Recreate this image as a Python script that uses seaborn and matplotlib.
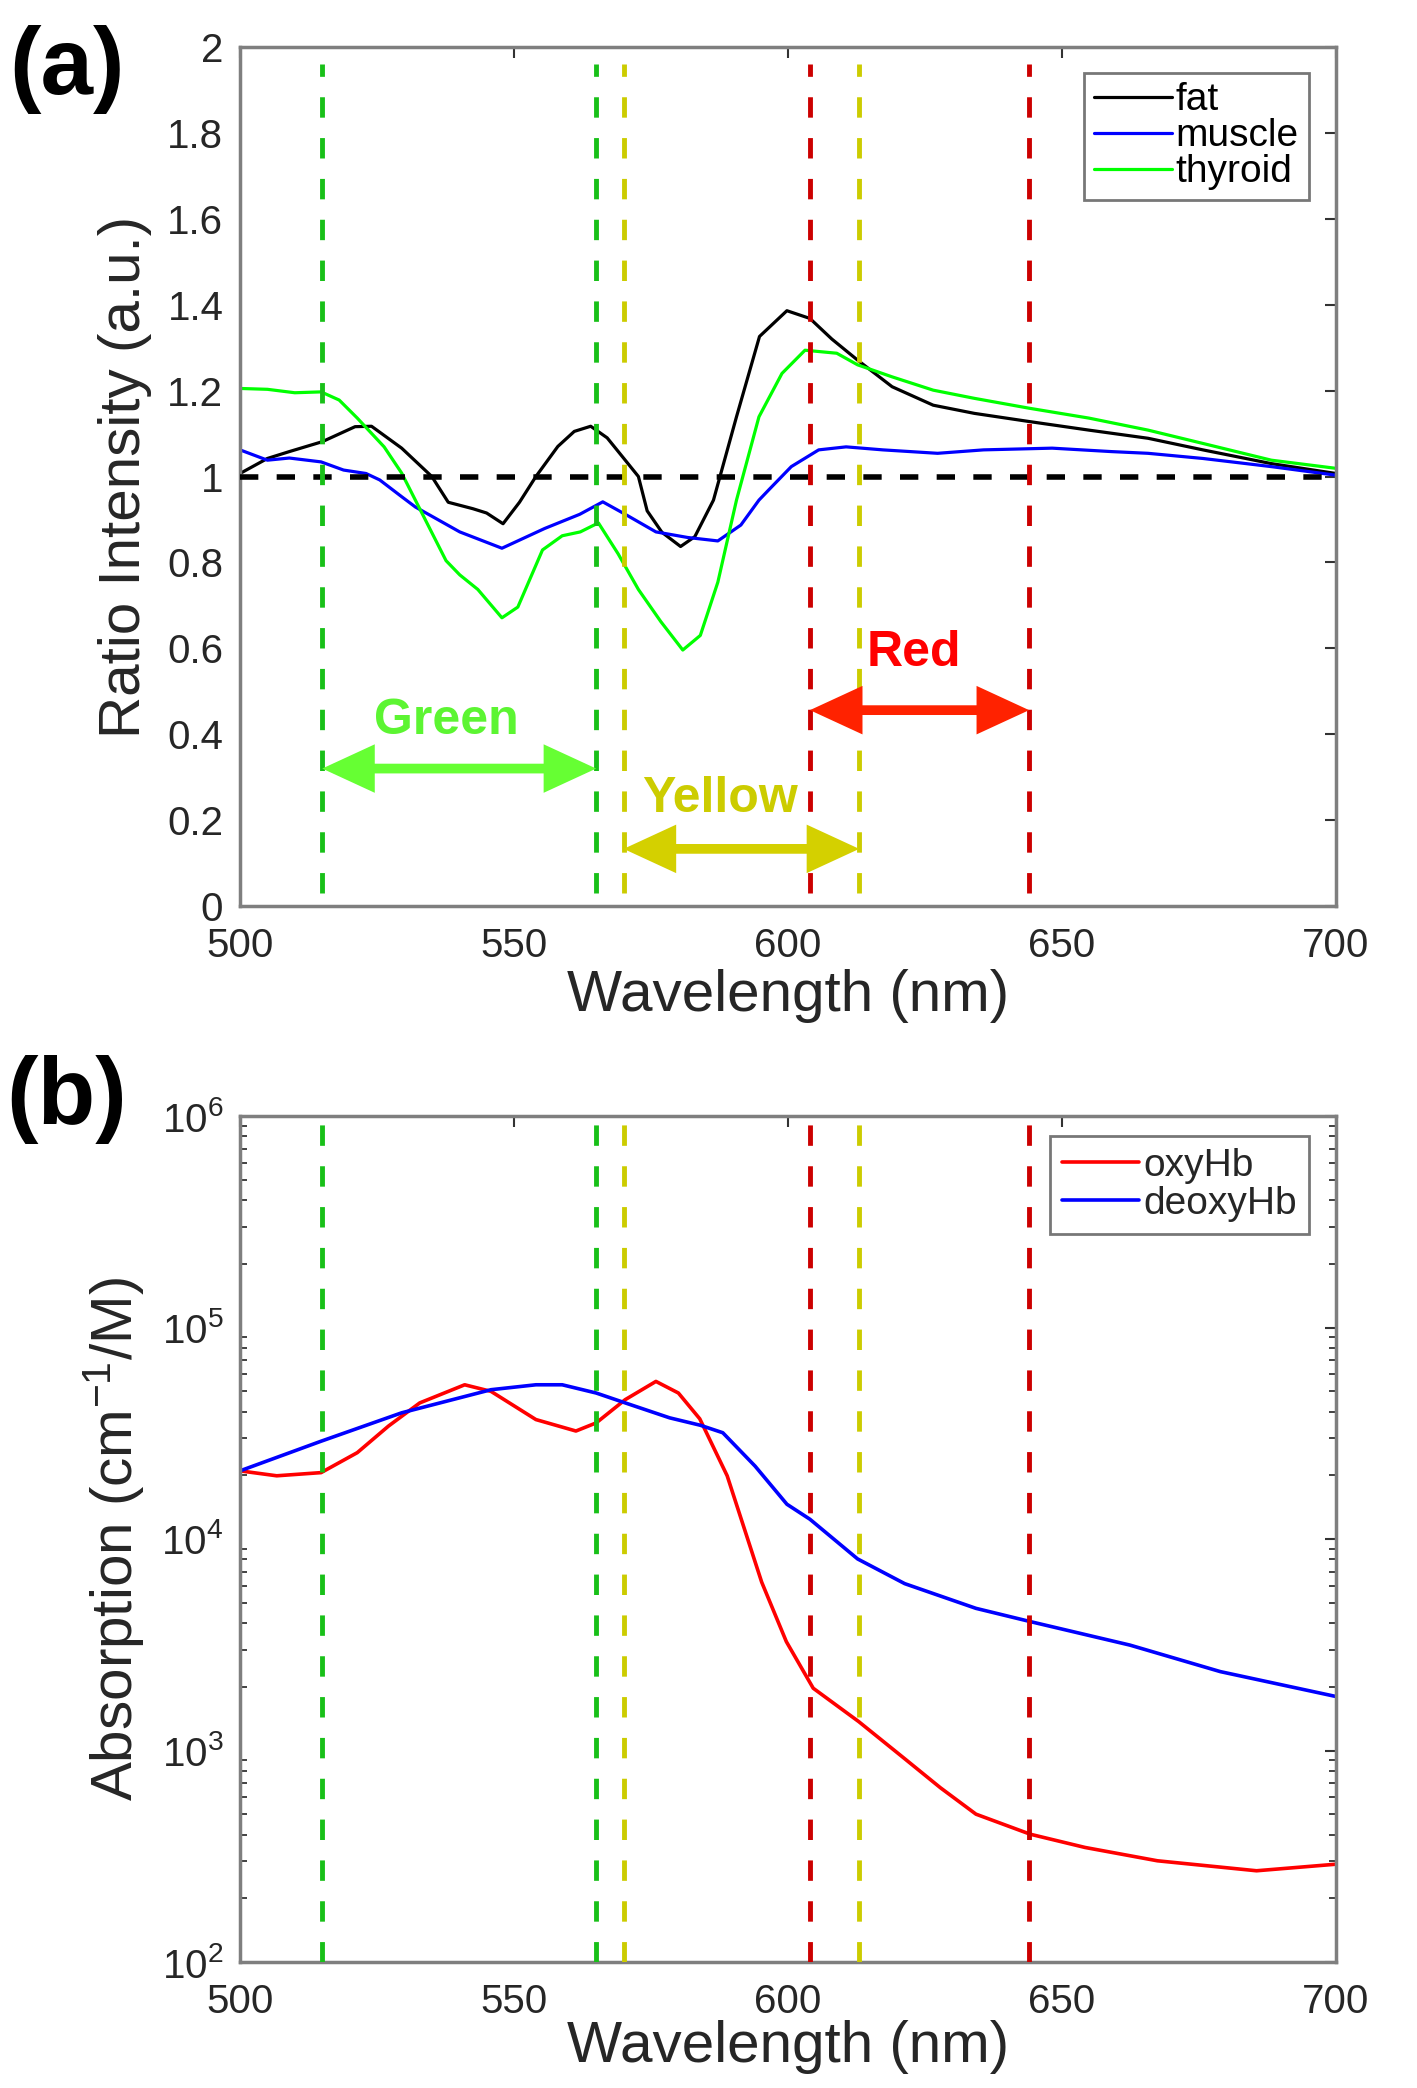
import matplotlib
matplotlib.use("Agg")
import matplotlib.pyplot as plt
import seaborn as sns
import numpy as np

# ---------------- data ----------------
fat_nm = [500, 505, 509, 515, 521, 524, 529.5, 535, 538, 542.5, 545, 548, 551, 554, 558, 561, 564,
          567, 570.3, 572.7, 574.3, 577, 580.4, 583, 586.4, 590.6, 594.8, 599.8, 604, 608, 612.7,
          619, 626.5, 634, 644, 654.9, 665.7, 675.7, 688.2, 700]
fat = [1.007, 1.042, 1.058, 1.081, 1.116, 1.117, 1.066, 1.0, 0.94, 0.925, 0.915, 0.89, 0.94, 1.0,
       1.07, 1.105, 1.117, 1.09, 1.038, 1.0, 0.92, 0.87, 0.837, 0.86, 0.945, 1.139, 1.326, 1.386,
       1.368, 1.32, 1.271, 1.209, 1.166, 1.147, 1.128, 1.108, 1.089, 1.062, 1.030, 1.007]

mus_nm = [500, 505, 509, 514.8, 518.9, 523, 525.5, 529.5, 532, 540.1, 547.8, 555.6, 562, 566.2,
          570.3, 575.9, 581.7, 587.2, 591.4, 594.7, 596.5, 600.6, 605.6, 610.6, 617.3, 627.3, 635.7,
          648.2, 659, 665.7, 675.7, 688.2, 700]
muscle = [1.062, 1.038, 1.043, 1.034, 1.015, 1.007, 0.992, 0.953, 0.929, 0.871, 0.833, 0.879, 0.912,
          0.941, 0.912, 0.871, 0.858, 0.850, 0.887, 0.945, 0.969, 1.023, 1.062, 1.069, 1.062, 1.054,
          1.062, 1.066, 1.058, 1.054, 1.042, 1.023, 1.003]

thy_nm = [500, 505, 510, 514.8, 518.1, 521.4, 526.3, 529.5, 532, 537.6, 540.1, 543.4, 547.8, 550.7,
          555.2, 558.8, 562.1, 565.4, 569, 572.7, 576.8, 580.8, 584, 587.2, 590.6, 594.7, 598.9,
          603.1, 608.9, 612.7, 619, 626.5, 634, 644, 654.9, 665.7, 675.7, 688.2, 700]
thyroid = [1.205, 1.203, 1.195, 1.197, 1.178, 1.136, 1.069, 1.008, 0.945, 0.804, 0.771, 0.737, 0.671,
           0.696, 0.829, 0.862, 0.871, 0.892, 0.820, 0.737, 0.662, 0.596, 0.63, 0.754, 0.945, 1.139,
           1.240, 1.294, 1.287, 1.260, 1.232, 1.201, 1.182, 1.159, 1.136, 1.108, 1.077, 1.038, 1.019]

oxy_nm = [500, 506.7, 514.8, 521.4, 527.1, 532.8, 541, 545.8, 554, 561.3, 565, 570.3, 575.9, 580,
          583.9, 588.9, 595.2, 599.7, 604.6, 612.9, 621.1, 627.8, 634.3, 644.2, 654.2, 667.4, 685.5, 700]
oxyHb = [21000, 19900, 20600, 25600, 34200, 44000, 53600, 49900, 36700, 32400, 35400, 45600, 55600,
         49000, 37000, 19900, 6250, 3270, 1970, 1370, 923, 667, 500, 402, 348, 301, 270, 290]

deo_nm = [500, 514.8, 529.5, 545.8, 554, 558.8, 565, 570.3, 578.4, 584, 588.1, 594, 599.8, 604,
          612.7, 621.3, 634.3, 644.2, 662.4, 678.9, 700]
deoxyHb = [21000, 29000, 39500, 50800, 53600, 53600, 49000, 44000, 37400, 34500, 31800, 22100,
           14600, 12400, 8050, 6150, 4700, 4070, 3150, 2360, 1800]

green_band = [515, 565]
yellow_band = [570, 613]
red_band = [604, 644]
arrow_y = {"Green": 0.32, "Yellow": 0.133, "Red": 0.456}
label_pos = {"Green": (537.7, 0.431), "Yellow": (587.5, 0.248), "Red": (623, 0.589)}

xticks = [500, 550, 600, 650, 700]
yticks_a = [0, 0.2, 0.4, 0.6, 0.8, 1, 1.2, 1.4, 1.6, 1.8, 2]
yticklabels_a = ["0", "0.2", "0.4", "0.6", "0.8", "1", "1.2", "1.4", "1.6", "1.8", "2"]

# ---------------- style ----------------
sns.set_style("white")
plt.rcParams['font.family'] = ['Liberation Sans', 'DejaVu Sans']
plt.rcParams['mathtext.default'] = 'regular'

TXT = '#262626'
SPINE = '#7f7f7f'
DG = '#18c018'   # dashed green
DY = '#cccc00'   # dashed yellow
DR = '#cc0000'   # dashed red

fig = plt.figure(figsize=(14.17, 20.88), dpi=100)
W, H = 1417, 2088
ax_a = fig.add_axes([240 / W, 1 - 906 / H, 1096 / W, 859 / H])
ax_b = fig.add_axes([240 / W, 1 - 1962 / H, 1096 / W, 846 / H])


def style_axes(ax):
    for s in ax.spines.values():
        s.set_color(SPINE)
        s.set_linewidth(2.5)
    ax.tick_params(axis='x', which='major', pad=15)
    ax.tick_params(axis='y', which='major', pad=12)
    ax.tick_params(axis='both', which='major', direction='in', length=8, width=1.5,
                   top=True, right=True, labelsize=29, labelcolor=TXT, color='#333333')
    ax.tick_params(axis='both', which='minor', direction='in', length=5, width=1.3,
                   top=True, right=True, left=True, color='#333333')


# ---------------- panel (a) ----------------
sns.lineplot(x=fat_nm, y=fat, ax=ax_a, color='black', lw=2.3, label='fat')
sns.lineplot(x=mus_nm, y=muscle, ax=ax_a, color='#0000ff', lw=2.3, label='muscle')
sns.lineplot(x=thy_nm, y=thyroid, ax=ax_a, color='#00ff00', lw=2.3, label='thyroid')

ax_a.axhline(1, color='black', lw=4, ls=(0, (3.3, 3.3)), zorder=3)
for x, c in [(green_band[0], DG), (green_band[1], DG), (yellow_band[0], DY),
             (yellow_band[1], DY), (red_band[0], DR), (red_band[1], DR)]:
    ax_a.vlines(x, 0.03, 1.96, color=c, lw=3.5, linestyles=[(0, (4.2, 4.2))], zorder=4)

bands = [("Green", green_band, '#66ff33', '#5cf532'),
         ("Yellow", yellow_band, '#d4d000', '#cccc00'),
         ("Red", red_band, '#ff2200', '#ff0000')]
for name, (x0, x1), ac, tc in bands:
    y = arrow_y[name]
    ax_a.annotate('', xy=(x1, y), xytext=(x0, y),
                  arrowprops=dict(arrowstyle='<|-|>,head_length=1.3,head_width=0.6',
                                  mutation_scale=20, lw=7, color=ac, shrinkA=0, shrinkB=0,
                                  joinstyle='miter', capstyle='butt'),
                  zorder=6)
    tx, ty = label_pos[name]
    ax_a.text(tx, ty, name, color=tc, fontsize=36, fontweight='bold',
              ha='center', va='center', zorder=7)

ax_a.set_xlim(500, 700)
ax_a.set_ylim(0, 2)
ax_a.set_xticks(xticks)
ax_a.set_yticks(yticks_a)
ax_a.set_yticklabels(yticklabels_a)
style_axes(ax_a)
ax_a.set_xlabel('Wavelength (nm)', fontsize=42, color=TXT)
ax_a.set_ylabel('Ratio Intensity (a.u.)', fontsize=42, color=TXT)
ax_a.yaxis.set_label_coords(-0.080, 0.5)
ax_a.xaxis.set_label_coords(0.5, -0.073)
leg = ax_a.legend(loc='upper right', bbox_to_anchor=(0.975, 0.970), borderaxespad=0,
                  fontsize=28, frameon=True, fancybox=False, labelspacing=0.0,
                  handlelength=2.0, handletextpad=0.1, borderpad=0.25)
leg.get_frame().set_edgecolor('#555555')
leg.get_frame().set_linewidth(2)
for t in leg.get_texts():
    t.set_color('black')

# ---------------- panel (b) ----------------
sns.lineplot(x=oxy_nm, y=oxyHb, ax=ax_b, color='#ff0000', lw=2.6, label='oxyHb')
sns.lineplot(x=deo_nm, y=deoxyHb, ax=ax_b, color='#0000ff', lw=2.6, label='deoxyHb')
ax_b.set_yscale('log')
for x, c in [(green_band[0], DG), (green_band[1], DG), (yellow_band[0], DY),
             (yellow_band[1], DY), (red_band[0], DR), (red_band[1], DR)]:
    ax_b.axvline(x, color=c, lw=3.5, ls=(0, (4.2, 4.2)), zorder=4)
ax_b.set_xlim(500, 700)
ax_b.set_ylim(1e2, 1e6)
ax_b.set_xticks(xticks)
style_axes(ax_b)
ax_b.set_xlabel('Wavelength (nm)', fontsize=42, color=TXT)
ax_b.set_ylabel('Absorption (cm$^{-1}$/M)', fontsize=42, color=TXT)
ax_b.yaxis.set_label_coords(-0.086, 0.5)
ax_b.xaxis.set_label_coords(0.5, -0.069)
leg = ax_b.legend(loc='upper right', bbox_to_anchor=(0.975, 0.976), borderaxespad=0,
                  fontsize=28, frameon=True, fancybox=False, labelspacing=0.05,
                  handlelength=2.0, handletextpad=0.1, borderpad=0.3)
leg.get_frame().set_edgecolor('#555555')
leg.get_frame().set_linewidth(2)

# panel letters
fig.text(67 / W, 1 - 70 / H, '(a)', fontsize=68, fontweight='bold', ha='center', va='center',
         color='black')
fig.text(67 / W, 1 - 1100 / H, '(b)', fontsize=68, fontweight='bold', ha='center', va='center',
         color='black')

fig.savefig('out.png', dpi=100, facecolor='white')
